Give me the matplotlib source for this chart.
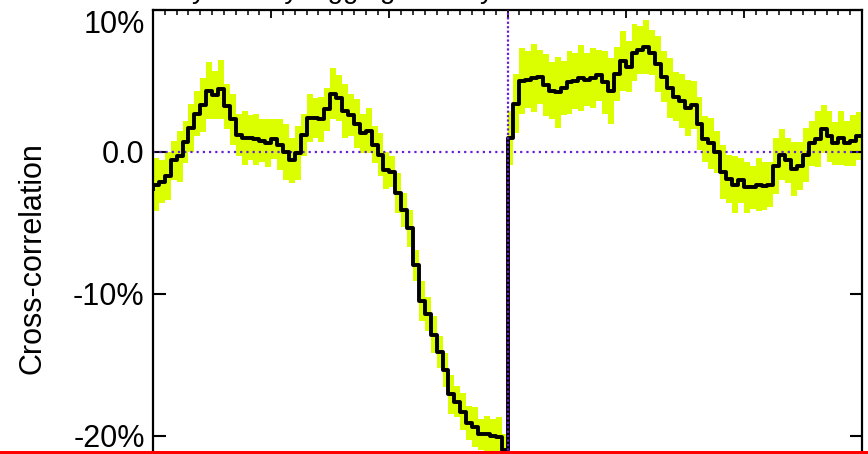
import matplotlib
matplotlib.use("Agg")
import matplotlib.pyplot as plt
import numpy as np
from matplotlib.patches import Rectangle

# lag in days, 0.5 day resolution
lags = np.arange(-30, 30.5, 0.5)

# cross-correlation in percent
corr = [
    -2.6, -2.3, -2.1, -1.7, -0.6, -0.3, 0.7, 1.7, 2.7, 3.3,
    4.3, 4.0, 4.4, 3.2, 2.3, 1.2, 1.0, 1.0, 0.9, 0.8,
    0.6, 0.9, 0.5, 0.0, -0.6, -0.1, 1.2, 2.4, 2.4, 2.3,
    3.0, 4.1, 3.8, 2.9, 2.6, 2.0, 1.3, 1.5, 0.5, -0.2,
    -1.3, -1.4, -2.9, -4.1, -5.4, -8.0, -10.5, -11.4, -12.9, -14.1,
    -15.4, -17.1, -17.6, -18.3, -19.1, -19.4, -19.9, -19.9, -20.0, -20.1,
    -21.0,
    1.0, 3.4, 5.0, 5.1, 5.2, 5.3, 4.7, 4.3, 4.2, 4.5,
    4.9, 5.0, 5.2, 5.1, 5.2, 5.4, 4.9, 4.3, 5.5, 6.4,
    6.0, 7.0, 7.2, 7.4, 7.0, 6.2, 5.3, 4.5, 3.9, 3.6,
    3.1, 3.3, 2.0, 0.9, 0.6, 0.0, -1.4, -1.9, -2.3, -2.0,
    -2.5, -2.5, -2.3, -2.4, -2.3, -1.0, -0.2, -0.6, -1.2, -1.0,
    -0.2, 0.6, 0.9, 1.6, 1.1, 0.6, 1.0, 0.6, 0.8, 1.1,
]

# one-sigma error on each lag, percent
err = [
    1.6, 1.9, 1.5, 1.7, 1.4, 1.8, 1.5, 1.7, 1.6, 1.9,
    2.0, 1.7, 2.1, 1.6, 1.8, 1.5, 1.9, 1.6, 1.8, 1.5,
    1.7, 1.4, 1.8, 2.0, 1.6, 1.9, 1.5, 1.7, 1.4, 1.6,
    1.5, 1.8, 1.6, 1.9, 1.5, 1.7, 1.4, 1.6, 1.3, 1.5,
    1.3, 1.1, 1.4, 1.2, 1.3, 1.1, 1.4, 1.2, 1.3, 1.1,
    1.2, 1.4, 1.1, 1.3, 1.2, 1.4, 1.1, 1.3, 1.2, 1.4,
    1.1,
    1.9, 2.1, 2.3, 2.0, 2.4, 1.9, 2.2, 2.0, 2.5, 1.9,
    2.2, 2.0, 2.3, 1.9, 2.1, 1.8, 2.2, 2.3, 1.9, 2.1,
    1.8, 2.0, 1.7, 1.9, 1.6, 2.0, 1.8, 2.1, 1.7, 1.9,
    2.0, 1.7, 1.9, 1.6, 1.8, 1.5, 1.9, 1.7, 2.0, 1.6,
    1.8, 1.5, 1.9, 1.7, 1.6, 2.0, 1.8, 1.6, 1.9, 1.7,
    1.9, 1.6, 2.0, 1.7, 1.8, 1.5, 1.9, 1.6, 1.8, 1.7,
]

ytick_vals = [-20, -10, 0, 10]
ytick_labels = ["-20%", "-10%", "0.0", "10%"]
title = "Monthly rate by lagging the day"

corr = np.array(corr)
err = np.array(err)

plt.rcParams['font.family'] = ['Liberation Sans', 'DejaVu Sans']

W, H = 868, 454
fig = plt.figure(figsize=(W / 100, H / 100), dpi=100)

# axes run past the bottom edge of the figure
ax = fig.add_axes([153 / W, -10 / H, 709 / W, 454 / H])
ax.set_xlim(-30, 30)
ax.set_ylim(-22, 10)

ax.fill_between(lags, corr - err, corr + err, step='pre',
                facecolor='#dcff00', edgecolor='none', zorder=1)
ax.plot(lags, corr, drawstyle='steps-pre', color='black', lw=2.8, zorder=3)

purple = '#6a1fd6'
ax.axhline(0, color=purple, lw=1.6, linestyle=(0, (1, 1.8)), zorder=2)
ax.axvline(0, color=purple, lw=1.6, linestyle=(0, (1, 1.0)), zorder=4)

ax.set_yticks(ytick_vals)
ax.set_yticklabels(ytick_labels, fontsize=22)
ax.get_yticklabels()[-1].set_verticalalignment('top')
ax.tick_params(axis='y', which='major', direction='in', length=9, width=1.5,
               left=True, right=True, pad=6)
ax.tick_params(axis='y', which='minor', left=False, right=False)

ax.set_xticks(np.arange(-30, 31, 10))
ax.set_xticks(np.arange(-30, 31, 1), minor=True)
ax.tick_params(axis='x', which='major', direction='in', length=6, width=1.3,
               top=True, bottom=True, labelbottom=False)
ax.tick_params(axis='x', which='minor', direction='in', length=3.6, width=1.1,
               top=True, bottom=True)

for s in ax.spines.values():
    s.set_linewidth(1.6)

fig.text(33 / W, 1 - 258 / H, "Cross-correlation", rotation=90,
         fontsize=22, ha='center', va='center')

# title sits above the top edge, only its descenders reach the canvas
fig.text(109 / W, 1 + 2 / H, title, fontsize=20, ha='left', va='baseline')

# red rule along the bottom edge
fig.add_artist(Rectangle((0, 0), 1, 3 / H, transform=fig.transFigure,
                         facecolor='#ff0000', edgecolor='none', zorder=10))

fig.savefig("out.png", dpi=100)
